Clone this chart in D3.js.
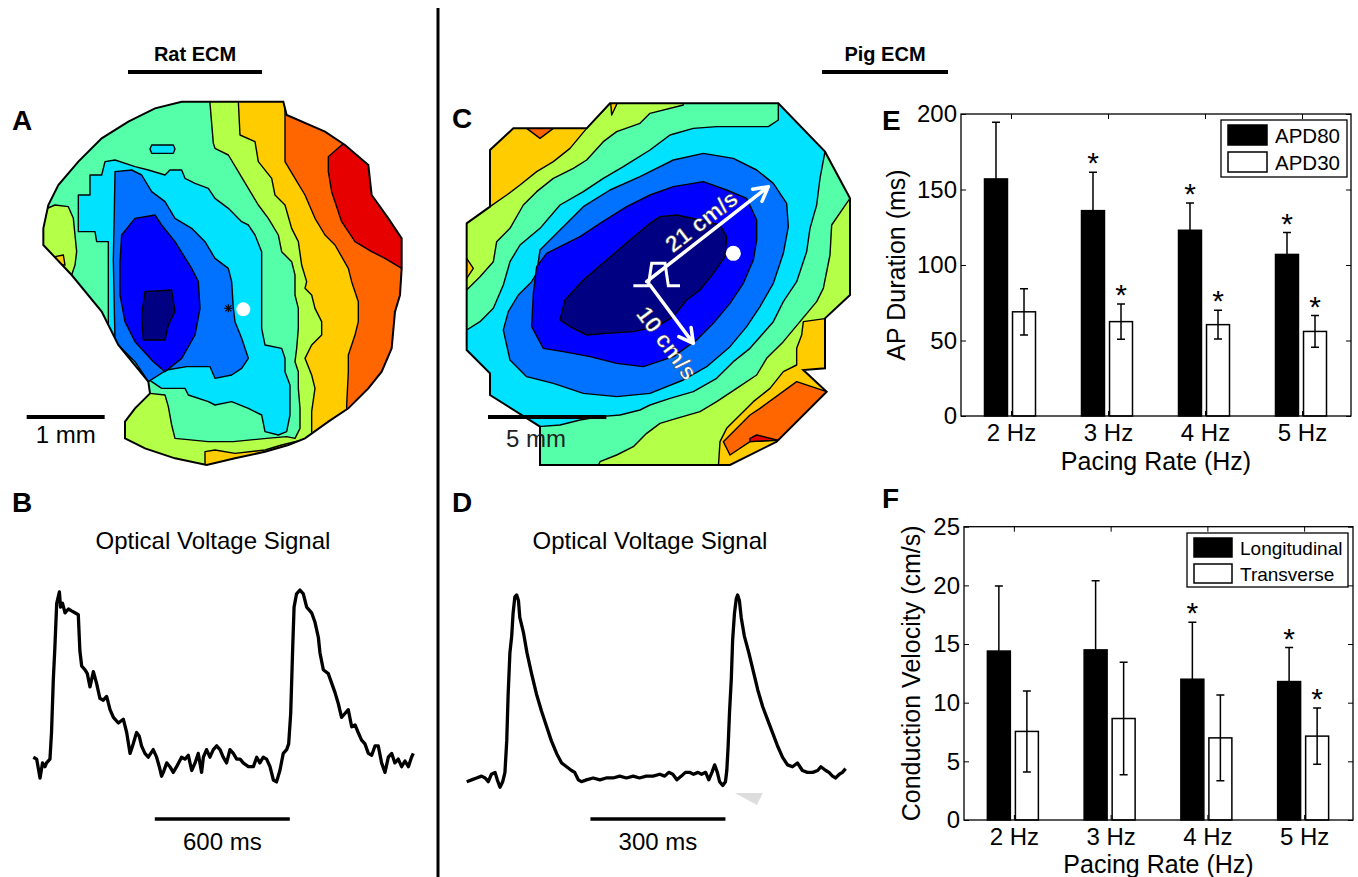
<!DOCTYPE html>
<html>
<head>
<meta charset="utf-8">
<script src="https://cdn.jsdelivr.net/npm/d3@7"></script>
<style>
  body { margin: 0; background: #fff; }
  svg { display: block; }
</style>
</head>
<body>
<div id="main-container"></div>
<script>
// ---------- Data ----------
const PACING_RATES = ['2 Hz', '3 Hz', '4 Hz', '5 Hz'];

// E: action potential duration (ms)
const APD80_MEAN = [157, 136, 123, 107];
const APD80_SD = [37.5, 25.5, 18, 14.5];
const APD80_SIG = [false, true, true, true];
const APD30_MEAN = [69, 62.5, 60.5, 56];
const APD30_SD = [15.3, 11.7, 9.5, 10.5];
const APD30_SIG = [false, true, true, true];

// F: conduction velocity (cm/s)
const CV_LONG_MEAN = [14.4, 14.5, 12.0, 11.8];
const CV_LONG_SD = [5.55, 5.9, 4.85, 2.9];
const CV_LONG_SIG = [false, false, true, true];
const CV_TRANS_MEAN = [7.55, 8.65, 7.0, 7.15];
const CV_TRANS_SD = [3.45, 4.8, 3.65, 2.4];
const CV_TRANS_SIG = [false, false, false, true];

// B: rat optical trace (time ms, signal % of peak)
const TRACE_B_TIME = [0,15,30,41,52,59,74,81,89,96,104,116,121,130,141,156,170,185,200,207,215,230,240,252,267,281,296,311,326,341,356,378,400,415,430,444,459,471,481,496,511,533,548,560,570,578,593,607,622,637,659,674,689,704,719,733,748,756,770,785,800,815,830,844,859,874,889,904,919,933,956,978,993,1007,1022,1037,1052,1067,1081,1096,1111,1126,1135,1144,1153,1159,1170,1185,1200,1215,1237,1252,1267,1274,1289,1311,1326,1341,1356,1370,1385,1400,1415,1430,1444,1459,1474,1489,1504,1519,1533,1548,1563,1578,1593,1607,1622,1637,1652,1667,1681,1689];
const TRACE_B_SIGNAL = [12,11,1,9,7,9,11,25,53,70,93,99,91,93,88,90,89,88,87,68,60,58,56,49,57,51,43,42,44,37,33,30,32,25,14,19,25,23,18,14,12,16,12,7,2,4,9,7,4,7,12,11,13,5,9,14,4,12,16,12,16,18,16,12,9,16,14,11,11,9,7,7,12,9,12,11,7,0,-1,5,14,16,19,35,70,91,98,100,98,91,88,83,75,67,58,56,51,46,40,33,35,37,28,29,25,21,19,14,13,18,18,9,4,12,14,9,11,7,10,7,12,14];

// D: pig optical trace (time ms, signal % of peak)
const TRACE_D_TIME = [0,11,22,33,41,48,55,63,68,74,80,85,89,92,96,100,103,107,111,115,118,126,134,144,155,166,177,188,200,211,222,233,240,248,255,266,281,296,310,325,340,355,370,384,399,414,429,440,449,458,467,477,486,495,504,514,522,531,538,545,551,557,562,569,575,578,581,584,588,591,595,599,602,606,610,617,627,636,647,658,669,680,691,702,713,724,735,746,757,769,780,787,798,805,813,820,828,835,842];
const TRACE_D_SIGNAL = [0,1,2,3,2,0,4,5,1,-3,0,5,22,46,69,78,90,99,100,97,88,80,69,58,47,38,30,22,15,10,8,6,5,1,0,1,2,1,2,2,3,2,3,2,3,3,4,3,5,4,1,3,5,5,4,5,4,5,1,5,9,5,0,-2,0,6,19,37,55,76,90,98,100,97,88,78,69,60,49,40,33,26,19,13,9,8,10,6,5,5,6,8,6,5,3,2,4,5,7];

// A: rat activation map, isochrone regions in recording-grid units
const A_OUTLINE = [[54.5,12.5],[85,12.5],[86,16.5],[97.5,21.5],[103.5,25.5],[110.5,31.5],[111.5,40.5],[116.5,47.5],[120.5,53.5],[120.5,62.5],[120,70.5],[118.5,75.5],[117.5,86.5],[114.5,93.5],[110.5,98.5],[104.5,104.5],[98.5,108.5],[91.5,113.5],[86.5,115.5],[79.5,117.5],[70.5,119.5],[62,121.5],[52.5,119.5],[43.5,116.5],[37.5,113.5],[37.5,108.5],[40.5,104.5],[45,100],[44.5,96.5],[35.5,85.5],[30.5,75.5],[21.5,64.5],[13,55.5],[13,50.5],[14.5,43.5],[17.5,37.5],[23.5,30.5],[30.5,23.5],[38.5,18.5],[46.5,14.5]];
const A_RED = [[98.5,29],[102.5,25.5],[106,24],[115,30],[118,40],[125,48],[125,63],[120.5,62.5],[115.5,59.5],[111.5,57.5],[106.5,54.5],[102.5,48.5],[99.5,39.5],[98.5,33.5]];
const A_GOLD = [[85.5,0],[85.5,16.5],[85.5,30.5],[88.5,35.5],[91.5,40.5],[94.5,47.5],[97.5,52.5],[100.5,55.5],[104.5,62.5],[105.5,66.5],[107.5,72.5],[107.5,78.5],[106.5,82.5],[104.5,88.5],[104.5,93.5],[104,103.5],[104,130],[0,130],[0,0]];
const A_LIME = [[71.5,0],[71.5,12.5],[72,22.5],[76.5,24.5],[77.5,30.5],[81.5,35.5],[82.5,40.5],[85.5,43.5],[87.5,50.5],[89.5,54.5],[90.5,61.5],[92,66.5],[91.5,68.5],[93.5,70.5],[94.5,74.5],[96.5,78.5],[96.5,82.5],[93.5,85.5],[91.5,89.5],[93.5,94.5],[94.5,98.5],[93.5,105.5],[93.5,113.5],[88.5,114.5],[84.5,115.5],[79.5,117],[70.5,118],[64.5,117],[61.5,117.5],[61.5,130],[0,130],[0,0]];
const A_MINT = [[63,0],[63,13],[64,25],[64.5,26.5],[68.5,28.5],[71.5,33.5],[74.5,38.5],[77.5,43.5],[80.5,47.5],[83.5,52.5],[84.5,57.5],[87.5,60.5],[88.5,64.5],[88.5,70.5],[89.5,74.5],[89.5,80.5],[89,86.5],[88.5,90.5],[89.5,93.5],[89.5,98.5],[90,104.5],[90,110.5],[88.5,113.5],[86,113],[80,113.5],[70,114.5],[62.5,114.5],[52.5,113.5],[51.5,109.5],[50.5,104],[49.5,100.5],[45,100],[0,100],[0,0]];
const A_LIME_LEFT = [[5,45],[13,45],[16.5,43.5],[20.5,44],[22,47.5],[22.5,52.5],[23,57.5],[22.5,61.5],[21.5,64.5],[5,64.5]];
const A_GOLD_DOT = [[16.5,59],[19,58.5],[19.5,61.5],[18,61.5]];
const A_CYAN = [[23.5,40.5],[27,40.5],[27,34.5],[30.5,34.5],[31.5,30.5],[34.5,30],[40.5,32],[44.5,33],[49.5,34.5],[51,33],[54.5,33],[55.5,35.5],[58.5,37],[62.5,38.5],[64.5,41.5],[68.5,44.5],[72.5,48.5],[74.5,49.5],[76.5,52.5],[78.5,57.5],[78.5,70.5],[78.5,80.5],[79.5,85.5],[84.5,86.5],[85.5,89.5],[85.5,93.5],[87,97.5],[87,106.5],[86,111.5],[83.5,112.5],[79.5,111.5],[78.5,106.5],[74.5,104.5],[69.5,102.5],[64.5,103.5],[62.5,102.5],[56.5,100.5],[55.5,98.5],[48.5,98.5],[45.5,96.5],[34.5,86],[32.5,81],[32.5,54.5],[29,54.5],[28.5,51.5],[23.5,51.5]];
const A_CYAN_ISLAND = [[45.5,25.5],[52,25.5],[52.5,26.7],[52,28],[45.5,28],[45,26.7]];
const A_AZURE = [[34.5,33.5],[39.5,33],[42.5,34.5],[45.5,39.5],[49.5,42.5],[52.5,47.5],[57.5,50.5],[61.5,54.5],[64.5,59.5],[68.5,62.5],[69.5,66.5],[70,74.5],[70.5,78.5],[72.5,83.5],[74.5,89.5],[72.5,92.5],[69.5,94.5],[64.5,95.5],[63,92],[56,92],[50,93],[44.5,96.5],[40.5,90.5],[34.5,84.5],[34,60],[34.3,45]];
const A_BLUE = [[36.5,52.5],[40.5,47.5],[46.5,46.5],[48.5,49.5],[52.5,54.5],[57.5,62.5],[59.5,66.5],[60,74.5],[58.5,82.5],[54.5,89.5],[49.5,93.5],[46,90.5],[40.5,84.5],[37.5,78.5],[36,70.5],[36,60.5]];
const A_NAVY = [[43.5,69.5],[51.5,69],[52.5,75.5],[50.5,79.5],[49.5,84],[43,84],[42.5,76.5]];

// C: pig activation map
const C_OUTLINE = [[51,13],[101.5,13],[115.5,27.5],[123,41.5],[123,70.5],[115.5,77.5],[115.5,92.5],[109,93],[116,99.5],[101,114.5],[87,121.5],[30,121.5],[30,110],[15,100.5],[15,94],[8,87],[8,49],[15,44],[15,27],[22,20.5],[44,20.5]];
const C_ORANGE_TL = [[25,17],[35,17],[34,20.5],[30,23.5],[26,20.5]];
const C_ORANGE_BR = [[85,114.5],[93,106.5],[96,104.5],[107,96.5],[116,99.5],[120,103],[103,114],[93,114.5],[87,118.5]];
const C_RED = [[93,113.5],[95,112.5],[101,114],[93,114.5]];
const C_LIME = [[0,44],[15,44],[20,40.5],[24,37.5],[29,33.5],[34,30.5],[39,26.5],[44,20.5],[51,13],[51,0],[130,0],[130,77.5],[116,77.5],[109,78.5],[108.5,82.5],[107,86.5],[107,91.5],[103,93.5],[99,98.5],[94,102.5],[90,106.5],[86,110.5],[84,114.5],[83,130],[0,130]];
const C_GOLD_LEFT = [[0,59],[8,59.5],[10,62.5],[8,65.5],[0,66]];
const C_GOLD_TOP = [[51,10],[53.5,10],[53,13.3],[51.5,16.5]];
const C_MINT = [[0,69],[8,69],[12,65],[16,60.5],[17,54.5],[21,50.5],[25,43.5],[29,39.5],[34,35.5],[40,32.5],[44,30],[49,24.5],[53,21.5],[60,19],[63,16],[73,13.5],[73,0],[130,0],[130,41.5],[123,41.5],[117.5,49.5],[117,58.5],[115,68.5],[113,72.5],[108,78.5],[103,84.5],[98,89.5],[95,94.5],[89,98.5],[83,102.5],[78,105.5],[71,107.5],[66,109],[62,112],[58,116],[53,118.5],[48,120.5],[44,130],[0,130]];
const C_CYAN = [[0,81],[8,81],[12,78.5],[16,74.5],[19,67.5],[21,60.5],[24,55.5],[30,50.5],[36,43.5],[43,39.5],[49,35.5],[55,32],[63,27],[69,22.5],[76,20.5],[83,20],[93,20],[98.5,20],[101.5,18],[101.5,5],[125,5],[125,20],[115.5,27.5],[114,35.5],[113,43.5],[111,50.5],[110,57.5],[107,66.5],[103,72.5],[100,78.5],[93,86.5],[88,90.5],[83,95.5],[76,99.5],[69,101.5],[63,103.5],[60,105],[54,106.5],[48,107],[42,108],[36,109.5],[29.5,110],[20,118],[0,118]];
const C_AZURE = [[19,81],[20.5,75.5],[23.5,70.5],[27.5,66.5],[29,64],[30,57],[36,51],[43,44],[51,39],[60,35],[70,30],[79,28],[88,29.5],[95,33],[100,37],[104,43],[104.5,50],[103,58],[100,67],[96,74],[92,80],[87,86],[80,92],[73,96],[63,100],[53,101],[43,100],[34,97],[26,95],[21,90]];
const C_BLUE = [[27.5,80],[28,70],[29,62],[32,58],[36,56],[42,53],[48,49],[56,44],[63,40.5],[70,38],[79,36.5],[86,39],[92,41.5],[95,48],[95,54],[94,60],[91,67],[87,73],[82,79],[77,84],[70,89],[61,92],[53,91],[45,89],[37,87.5],[31,86.5]];
const C_NAVY = [[36,78],[37.5,72],[43,66],[50,60],[57,54],[63,49],[66,47],[71,46.5],[78,48],[84,49.5],[86,53],[85.5,59],[82,64],[78,69],[74,72],[70,77],[65,80],[58,81.5],[50,82],[44,82.5],[39,80]];

// ---------- Setup ----------
const FONT = "'Liberation Sans', Arial, Helvetica, sans-serif";
const W = 1358, H = 877;
const JET = { navy: '#000082', blue: '#0000ff', azure: '#0072ff', cyan: '#00e2ff', mint: '#55ffaa', lime: '#b4ff48', gold: '#ffcc00', orange: '#ff6600', red: '#e60000' };

const SVG = d3.select('#main-container').append('svg')
    .attr('width', W)
    .attr('height', H)
    .style('font-family', FONT);

// Panel letters and headers
const LETTERS = [['A', 12, 130], ['B', 12, 512], ['C', 452, 128], ['D', 452, 512], ['E', 882, 130], ['F', 882, 508]];
SVG.selectAll('text.letter').data(LETTERS).join('text')
    .attr('class', 'letter')
    .attr('x', d => d[1]).attr('y', d => d[2])
    .style('font-size', '28px').style('font-weight', 'bold')
    .text(d => d[0]);

[['Rat ECM', 195, 128, 262], ['Pig ECM', 885, 822, 948]].forEach(([t, cx, x1, x2]) => {
    SVG.append('text').attr('x', cx).attr('y', 61).attr('text-anchor', 'middle')
        .style('font-size', '20px').style('font-weight', 'bold').text(t);
    SVG.append('line').attr('x1', x1).attr('x2', x2).attr('y1', 72).attr('y2', 72)
        .attr('stroke', '#000').attr('stroke-width', 4);
});

SVG.append('line').attr('x1', 438).attr('x2', 438).attr('y1', 8).attr('y2', H)
    .attr('stroke', '#000').attr('stroke-width', 3);

// ---------- Activation maps ----------
function drawMap(id, xS, yS, outline, base, bands) {
    const g = SVG.append('g');
    const line = d3.line().x(d => xS(d[0])).y(d => yS(d[1])).curve(d3.curveLinearClosed);
    g.append('clipPath').attr('id', id).append('path').attr('d', line(outline));
    const inner = g.append('g').attr('clip-path', `url(#${id})`);
    inner.append('path').attr('d', line(outline)).attr('fill', base);
    inner.selectAll('path.band').data(bands).join('path')
        .attr('class', 'band')
        .attr('d', d => line(d[0]))
        .attr('fill', d => d[1])
        .attr('stroke', '#000')
        .attr('stroke-width', 1.4)
        .attr('stroke-linejoin', 'round');
    g.append('path').attr('d', line(outline))
        .attr('fill', 'none').attr('stroke', '#000').attr('stroke-width', 2);
    return g;
}

const xA = d3.scaleLinear().domain([0, 120]).range([0, 400]);
const yA = d3.scaleLinear().domain([0, 120]).range([60, 460]);
const mapA = drawMap('clipA', xA, yA, A_OUTLINE, JET.orange, [
    [A_RED, JET.red], [A_GOLD, JET.gold], [A_LIME, JET.lime], [A_MINT, JET.mint],
    [A_LIME_LEFT, JET.lime], [A_GOLD_DOT, JET.gold], [A_CYAN, JET.cyan], [A_CYAN_ISLAND, JET.cyan],
    [A_AZURE, JET.azure], [A_BLUE, JET.blue], [A_NAVY, JET.navy]
]);
// pacing site marker and recording site
const starA = [68.5, 74.5];
[[-4, 0, 4, 0], [0, -4, 0, 4], [-3, -3, 3, 3], [-3, 3, 3, -3]].forEach(s => {
    mapA.append('line')
        .attr('x1', xA(starA[0]) + s[0]).attr('y1', yA(starA[1]) + s[1])
        .attr('x2', xA(starA[0]) + s[2]).attr('y2', yA(starA[1]) + s[3])
        .attr('stroke', '#000').attr('stroke-width', 1.2);
});
mapA.append('circle').attr('cx', xA(73)).attr('cy', yA(74.8)).attr('r', 7).attr('fill', '#fff');

const A_UNITS_PER_MM = 23.4;
SVG.append('line').attr('x1', xA(8)).attr('x2', xA(8 + A_UNITS_PER_MM)).attr('y1', 417).attr('y2', 417)
    .attr('stroke', '#000').attr('stroke-width', 4);
SVG.append('text').attr('x', (xA(8) + xA(8 + A_UNITS_PER_MM)) / 2).attr('y', 443).attr('text-anchor', 'middle')
    .style('font-size', '24px').text('1 mm');

const xC = d3.scaleLinear().domain([0, 120]).range([440, 840]);
const yC = d3.scaleLinear().domain([0, 120]).range([60, 460]);
const mapC = drawMap('clipC', xC, yC, C_OUTLINE, JET.gold, [
    [C_ORANGE_TL, JET.orange], [C_ORANGE_BR, JET.orange], [C_RED, JET.red],
    [C_LIME, JET.lime], [C_GOLD_LEFT, JET.gold], [C_GOLD_TOP, JET.gold],
    [C_MINT, JET.mint], [C_CYAN, JET.cyan], [C_AZURE, JET.azure], [C_BLUE, JET.blue], [C_NAVY, JET.navy]
]);

function arrow(g, p0, p1, xS, yS) {
    const x1 = xS(p0[0]), y1 = yS(p0[1]), x2 = xS(p1[0]), y2 = yS(p1[1]);
    const a = Math.atan2(y2 - y1, x2 - x1), L = 16, s = 0.5;
    const path = `M${x1},${y1}L${x2},${y2}` +
        `M${x2 - L * Math.cos(a - s)},${y2 - L * Math.sin(a - s)}L${x2},${y2}` +
        `L${x2 - L * Math.cos(a + s)},${y2 - L * Math.sin(a + s)}`;
    g.append('path').attr('d', path).attr('fill', 'none')
        .attr('stroke', '#fff').attr('stroke-width', 3.5).attr('stroke-linecap', 'round').attr('stroke-linejoin', 'round');
    return { x1, y1, x2, y2, a };
}
const LONG_AXIS = [[62, 66.5], [98.5, 38]];
const TRANS_AXIS = [[63, 67.5], [76, 85]];
const longA = arrow(mapC, LONG_AXIS[0], LONG_AXIS[1], xC, yC);
const transA = arrow(mapC, TRANS_AXIS[0], TRANS_AXIS[1], xC, yC);

const PULSE = [[58, 67.7], [62.5, 67.7], [63.5, 61], [67.5, 61], [68.5, 67.7], [72, 67.7]];
mapC.append('path')
    .attr('d', d3.line().x(d => xC(d[0])).y(d => yC(d[1]))(PULSE))
    .attr('fill', 'none').attr('stroke', '#fff').attr('stroke-width', 3);

function labelAlong(g, ar, t, off, txt) {
    const px = ar.x1 + t * (ar.x2 - ar.x1), py = ar.y1 + t * (ar.y2 - ar.y1);
    g.append('text')
        .attr('transform', `translate(${px},${py}) rotate(${ar.a * 180 / Math.PI})`)
        .attr('y', off).attr('text-anchor', 'middle')
        .style('font-size', '23px').style('font-weight', 'bold')
        .attr('fill', '#fff').attr('stroke', '#333').attr('stroke-width', 0.5)
        .text(txt);
}
labelAlong(mapC, longA, 0.52, -6, '21 cm/s');
labelAlong(mapC, transA, 0.78, 29, '10 cm/s');
mapC.append('circle').attr('cx', xC(88)).attr('cy', yC(58)).attr('r', 7.5).attr('fill', '#fff');

const C_UNITS_PER_MM = 7.1;
SVG.append('line').attr('x1', xC(14.4)).attr('x2', xC(14.4 + 5 * C_UNITS_PER_MM)).attr('y1', 417).attr('y2', 417)
    .attr('stroke', '#000').attr('stroke-width', 4);
SVG.append('text').attr('x', xC(14.4) + 48).attr('y', 447).attr('text-anchor', 'middle')
    .attr('fill', '#222').style('font-size', '24px').text('5 mm');

// ---------- Optical traces ----------
function drawTrace(times, signal, xS, yS, title, titleX, barStart, barLen, barLabel) {
    const g = SVG.append('g');
    g.append('text').attr('x', titleX).attr('y', 549).attr('text-anchor', 'middle')
        .style('font-size', '24px').text(title);
    const line = d3.line().x(d => xS(d[0])).y(d => yS(d[1]));
    g.append('path').attr('d', line(d3.zip(times, signal)))
        .attr('fill', 'none').attr('stroke', '#000').attr('stroke-width', 3.3)
        .attr('stroke-linejoin', 'round');
    g.append('line').attr('x1', xS(barStart)).attr('x2', xS(barStart + barLen))
        .attr('y1', 819).attr('y2', 819).attr('stroke', '#000').attr('stroke-width', 3.5);
    g.append('text').attr('x', (xS(barStart) + xS(barStart + barLen)) / 2).attr('y', 850)
        .attr('text-anchor', 'middle').style('font-size', '24px').text(barLabel);
    return g;
}

const xB = d3.scaleLinear().domain([0, 600]).range([33.3, 168.3]);
const yB = d3.scaleLinear().domain([0, 100]).range([780, 590]);
drawTrace(TRACE_B_TIME, TRACE_B_SIGNAL, xB, yB, 'Optical Voltage Signal', 213, 540, 600, '600 ms');

const xD = d3.scaleLinear().domain([0, 300]).range([466.7, 601.7]);
const yD = d3.scaleLinear().domain([0, 100]).range([781.7, 595]);
const traceD = drawTrace(TRACE_D_TIME, TRACE_D_SIGNAL, xD, yD, 'Optical Voltage Signal', 650, 275, 300, '300 ms');
traceD.append('path')
    .attr('d', d3.line().x(d => xD(d[0])).y(d => yD(d[1])).curve(d3.curveLinearClosed)([[596, -6], [658, -6], [645, -12.5]]))
    .attr('fill', '#ddd');

// ---------- Bar charts ----------
function barPanel(o) {
    const g = SVG.append('g');
    const x = d3.scaleBand().domain(PACING_RATES).range([o.left + 2, o.right]);
    const y = d3.scaleLinear().domain(o.domain).range([o.bottom, o.top]);
    const inner = d3.scaleBand().domain(o.names).range([-27, 24]).paddingInner(0.18);
    const cx = c => x(c) + x.bandwidth() / 2;

    o.series.forEach((s, k) => {
        const name = o.names[k];
        const rows = PACING_RATES.map((c, i) => ({ c, m: s.mean[i], sd: s.sd[i], sig: s.sig[i] }));
        const bx = d => cx(d.c) + inner(name);
        const mid = d => bx(d) + inner.bandwidth() / 2;
        g.selectAll(null).data(rows).join('rect')
            .attr('x', bx).attr('width', inner.bandwidth())
            .attr('y', d => y(d.m)).attr('height', d => y(0) - y(d.m))
            .attr('fill', s.fill).attr('stroke', '#000').attr('stroke-width', 1.5);
        g.selectAll(null).data(rows).join('path')
            .attr('d', d => {
                const m = mid(d), t = y(d.m + d.sd), b = y(d.m - d.sd);
                return `M${m},${t}V${b}M${m - 4},${t}H${m + 4}M${m - 4},${b}H${m + 4}`;
            })
            .attr('fill', 'none').attr('stroke', '#000').attr('stroke-width', 1.5);
        g.selectAll(null).data(rows.filter(d => d.sig)).join('text')
            .attr('x', mid).attr('y', d => y(d.m + d.sd) + 1)
            .attr('text-anchor', 'middle').style('font-size', '30px').text('*');
    });

    g.append('rect').attr('x', o.left).attr('y', o.top)
        .attr('width', o.right - o.left).attr('height', o.bottom - o.top)
        .attr('fill', 'none').attr('stroke', '#000').attr('stroke-width', 1.3);

    const styleAxis = a => {
        a.select('.domain').remove();
        a.selectAll('line').attr('stroke', '#000');
        a.attr('font-size', null).attr('font-family', null).style('font-size', '24px');
    };
    g.append('g').attr('transform', `translate(${o.left},0)`)
        .call(d3.axisLeft(y).tickValues(o.ticks).tickSize(-5).tickPadding(4)).call(styleAxis);
    g.append('g').attr('transform', `translate(${o.right},0)`)
        .call(d3.axisRight(y).tickValues(o.ticks).tickSize(-5).tickFormat('')).call(styleAxis);
    g.append('g').attr('transform', `translate(0,${o.bottom})`)
        .call(d3.axisBottom(x).tickSize(-5).tickPadding(8)).call(styleAxis);
    g.append('g').attr('transform', `translate(0,${o.top})`)
        .call(d3.axisTop(x).tickSize(-5).tickFormat('')).call(styleAxis);

    g.append('text')
        .attr('transform', `translate(${o.yLabelX},${(o.top + o.bottom) / 2}) rotate(-90)`)
        .attr('text-anchor', 'middle').style('font-size', '25px').text(o.yLabel);
    g.append('text').attr('x', (o.left + o.right) / 2).attr('y', o.xLabelY)
        .attr('text-anchor', 'middle').style('font-size', '25px').text('Pacing Rate (Hz)');

    const L = o.legend;
    g.append('rect').attr('x', L.x).attr('y', L.y).attr('width', L.w).attr('height', L.h)
        .attr('fill', '#fff').attr('stroke', '#000').attr('stroke-width', 1.3);
    o.names.forEach((n, k) => {
        g.append('rect').attr('x', L.x + 7).attr('y', L.y + 5 + k * L.step)
            .attr('width', L.sw).attr('height', L.sh)
            .attr('fill', o.series[k].fill).attr('stroke', '#000').attr('stroke-width', 1.5);
        g.append('text').attr('x', L.x + L.tx).attr('y', L.y + L.base + k * L.step)
            .style('font-size', L.fs + 'px').text(n);
    });
}

barPanel({
    left: 961, right: 1351, top: 114, bottom: 416,
    domain: [0, 200], ticks: [0, 50, 100, 150, 200],
    names: ['APD80', 'APD30'],
    series: [
        { mean: APD80_MEAN, sd: APD80_SD, sig: APD80_SIG, fill: '#000' },
        { mean: APD30_MEAN, sd: APD30_SD, sig: APD30_SIG, fill: '#fff' }
    ],
    yLabel: 'AP Duration (ms)', yLabelX: 905, xLabelY: 470,
    legend: { x: 1221, y: 120, w: 126, h: 57, sw: 39, sh: 20, step: 27, tx: 54, base: 23, fs: 20.5 }
});

barPanel({
    left: 964, right: 1353, top: 526.7, bottom: 820,
    domain: [0, 25], ticks: [0, 5, 10, 15, 20, 25],
    names: ['Longitudinal', 'Transverse'],
    series: [
        { mean: CV_LONG_MEAN, sd: CV_LONG_SD, sig: CV_LONG_SIG, fill: '#000' },
        { mean: CV_TRANS_MEAN, sd: CV_TRANS_SD, sig: CV_TRANS_SIG, fill: '#fff' }
    ],
    yLabel: 'Conduction Velocity (cm/s)', yLabelX: 920, xLabelY: 873,
    legend: { x: 1187, y: 533, w: 161, h: 54, sw: 38, sh: 19, step: 26, tx: 53, base: 22, fs: 19 }
});
</script>
</body>
</html>
